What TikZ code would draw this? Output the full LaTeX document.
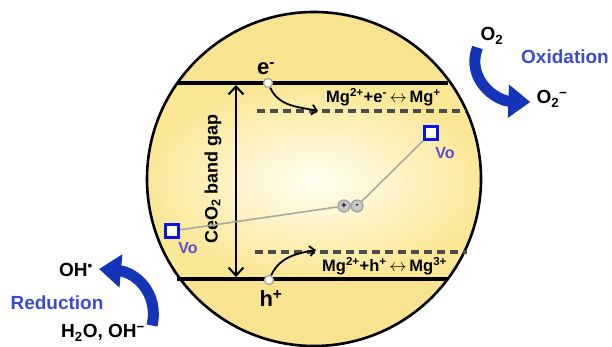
\documentclass[tikz,border=0pt]{standalone}
\usepackage{fontspec}
\setmainfont{Liberation Sans}
\usetikzlibrary{arrows.meta,positioning}
\definecolor{capyellow}{HTML}{F8E390}
\definecolor{bandyellow}{HTML}{FAE794}
\definecolor{bandlight}{HTML}{FFFEF2}
\definecolor{redoxblue}{HTML}{1634B8}
\definecolor{vacblue}{HTML}{0A14E6}
\definecolor{vactext}{HTML}{5852D0}
\definecolor{labelblue}{HTML}{3A4CD0}
\definecolor{pathgray}{HTML}{A9A9A0}
\newcommand{\fsz}[1]{\fontsize{#1}{#1}\selectfont\bfseries}

\begin{document}
\begin{tikzpicture}[x=1pt, y=1pt, every node/.style={inner sep=0pt, font=\fsz{16.5}},
    edgeline/.style={line width=3.2pt},
    levelline/.style={line width=3.4pt, black!70, dash pattern=on 8pt off 5pt},
    gaparrow/.style={line width=2pt, {Straight Barb[length=8pt,width=15pt]}-{Straight Barb[length=8pt,width=15pt]}},
    hoparrow/.style={line width=1.8pt, -{Straight Barb[length=5pt,width=10pt]}},
    redoxarrow/.style={redoxblue, line width=11pt, -{Triangle[length=22pt,width=32pt]}},
    carrier/.style={circle, draw=gray!70, fill=bandlight, line width=1.3pt, minimum size=9pt},
    vacancy/.style={rectangle, draw=vacblue, fill=bandlight, line width=3.4pt, minimum size=13pt},
    charge/.style={circle, draw=gray!75, fill=gray!45, line width=1.2pt, minimum size=12pt, font=\fsz{9}}]
    \useasboundingbox (0,0) rectangle (612,347);

    % CeO2 particle
    \begin{scope}
        \clip (314,168) circle (167);
        \fill[capyellow] (140,0) rectangle (490,347);
        \shade[inner color=bandlight, outer color=bandyellow] (140,68) rectangle (490,264);
    \end{scope}
    \draw[line width=2.6pt] (314,168) circle (167);

    % Band edges and Mg levels
    \draw[edgeline] (178,264) -- (448,264);
    \draw[edgeline] (177,68) -- (448,68);
    \draw[levelline] (257,236) -- (466,236);
    \draw[levelline] (255,95) -- (467,95);

    % Band gap
    \coordinate (gapTop) at (236,262);
    \coordinate (gapBot) at (236,70);
    \draw[gaparrow] (gapTop) -- (gapBot);
    \node[rotate=90, font=\fsz{18}] (gapLabel) at (213,168) {CeO\textsubscript{2} band gap};

    % Electron trapping
    \node[carrier] (eDot) at (268,264) {};
    \node[anchor=base, font=\fsz{22}] (eLabel) at (266,272) {e\textsuperscript{-}};
    \coordinate (eLevel) at (318,236);
    \draw[hoparrow] (eDot) to[out=-65, in=168] (eLevel);
    \node[anchor=base west] (mgE) at (326,244) {Mg\textsuperscript{2+}+e\textsuperscript{-}\,$\leftrightarrow$\,Mg\textsuperscript{+}};

    % Hole trapping
    \node[carrier] (hDot) at (269,67) {};
    \node[anchor=base, font=\fsz{22}] (hLabel) at (271,40) {h\textsuperscript{+}};
    \coordinate (hLevel) at (316,97);
    \draw[hoparrow] (hDot) to[out=65, in=190] (hLevel);
    \node[anchor=base west] (mgH) at (322,75) {Mg\textsuperscript{2+}+h\textsuperscript{+}\,$\leftrightarrow$\,Mg\textsuperscript{3+}};

    % Oxygen vacancies and pair separation
    \node[vacancy] (voL) at (172,116) {};
    \node[font=\fsz{16}, text=vactext] (voLLabel) at (188,99) {Vo};
    \node[vacancy] (voR) at (431,214) {};
    \node[font=\fsz{16}, text=vactext] (voRLabel) at (445,194) {Vo};
    \node[charge] (plus) at (344,141) {+};
    \node[charge] (minus) at (357,141) {-};
    \draw[pathgray, line width=1.6pt] (voL) -- (plus);
    \draw[pathgray, line width=1.6pt] (minus) -- (voR);

    % Oxidation
    \node[font=\fsz{19}] (oTwo) at (492,311) {O\textsubscript{2}};
    \node[font=\fsz{19}] (oTwoMinus) at (552,248) {O\textsubscript{2}\textsuperscript{−}};
    \node[font=\fsz{19}, text=labelblue] (oxLabel) at (565,290) {Oxidation};
    \draw[redoxarrow] ([xshift=-3pt,yshift=-3pt]oTwo.south west) to[out=-110, in=178, looseness=1.15] ([xshift=-6pt,yshift=-3pt]oTwoMinus.west);

    % Reduction
    \node[font=\fsz{19}] (ohRad) at (76,77) {OH\textsuperscript{\textbullet}};
    \node[font=\fsz{19}, text=labelblue] (redLabel) at (57,44) {Reduction};
    \node[font=\fsz{19}] (hTwoO) at (103,14) {H\textsubscript{2}O, OH\textsuperscript{−}};
    \draw[redoxarrow] ([xshift=7pt,yshift=-1pt]hTwoO.north east) to[out=78, in=-5, looseness=1.15] ([xshift=6pt,yshift=1pt]ohRad.east);
\end{tikzpicture}
\end{document}
